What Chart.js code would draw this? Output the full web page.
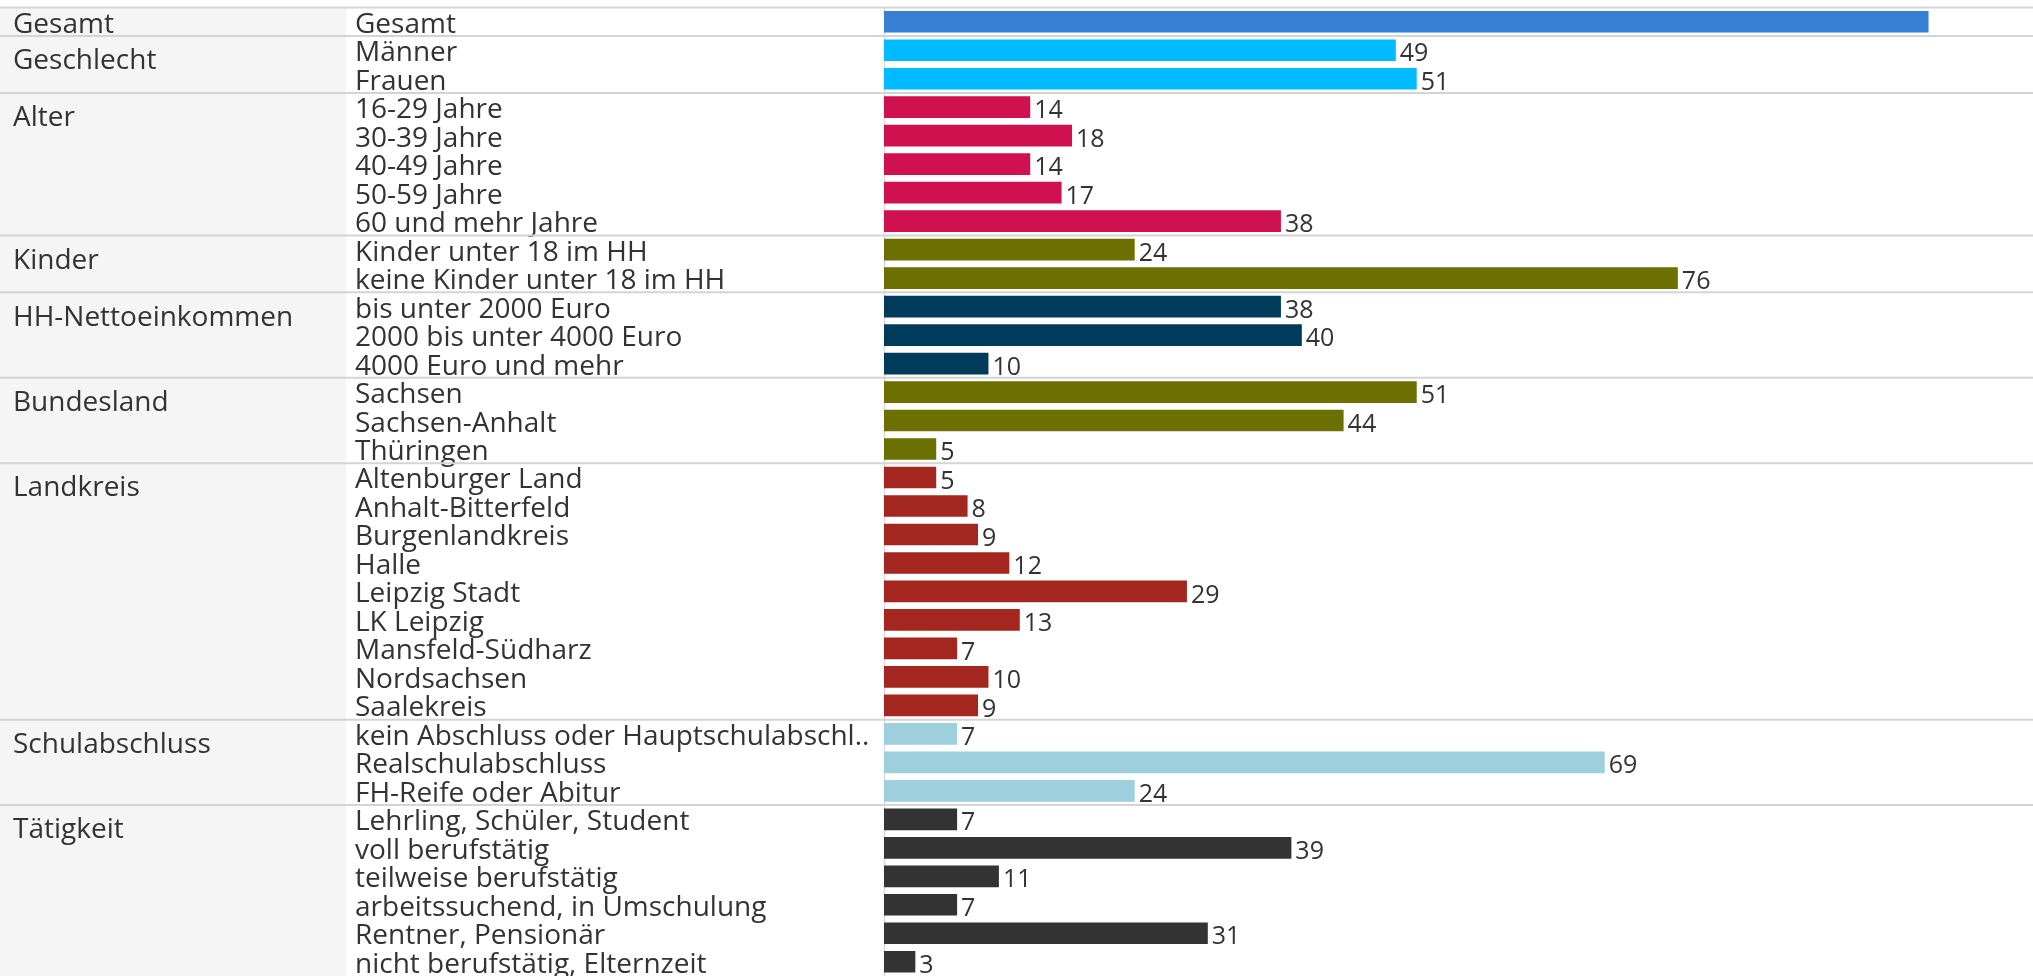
<!DOCTYPE html>
<html>
<head>
<meta charset="utf-8">
<script src="https://cdn.jsdelivr.net/npm/chart.js@4/dist/chart.umd.min.js"></script>
<style>
  html, body { margin: 0; padding: 0; background: #fff; overflow: hidden; }
  #wrap { width: 2033px; height: 976px; }
</style>
</head>
<body>
<div id="wrap"><canvas id="chart" width="2033" height="976"></canvas></div>
<script>
const groupNames = ['Gesamt', 'Geschlecht', 'Alter', 'Kinder', 'HH-Nettoeinkommen',
  'Bundesland', 'Landkreis', 'Schulabschluss', 'Tätigkeit'];
const groupCounts = [1, 2, 5, 2, 3, 3, 9, 3, 6];

const categories = [
  'Gesamt',
  'Männer', 'Frauen',
  '16-29 Jahre', '30-39 Jahre', '40-49 Jahre', '50-59 Jahre', '60 und mehr Jahre',
  'Kinder unter 18 im HH', 'keine Kinder unter 18 im HH',
  'bis unter 2000 Euro', '2000 bis unter 4000 Euro', '4000 Euro und mehr',
  'Sachsen', 'Sachsen-Anhalt', 'Thüringen',
  'Altenburger Land', 'Anhalt-Bitterfeld', 'Burgenlandkreis', 'Halle', 'Leipzig Stadt',
  'LK Leipzig', 'Mansfeld-Südharz', 'Nordsachsen', 'Saalekreis',
  'kein Abschluss oder Hauptschulabschl..', 'Realschulabschluss', 'FH-Reife oder Abitur',
  'Lehrling, Schüler, Student', 'voll berufstätig', 'teilweise berufstätig',
  'arbeitssuchend, in Umschulung', 'Rentner, Pensionär', 'nicht berufstätig, Elternzeit'
];

const values = [
  100,
  49, 51,
  14, 18, 14, 17, 38,
  24, 76,
  38, 40, 10,
  51, 44, 5,
  5, 8, 9, 12, 29, 13, 7, 10, 9,
  7, 69, 24,
  7, 39, 11, 7, 31, 3
];

// Gesamt bar shows no value label
const hiddenLabels = ['Gesamt'];

const groupColors = ['#3580d4', '#00bbff', '#cf1150', '#6b7000', '#003b5c',
  '#6b7000', '#a3271e', '#9dcfdd', '#333333'];

// group index for each row
const rowGroup = [];
groupCounts.forEach((n, g) => { for (let k = 0; k < n; k++) rowGroup.push(g); });

const FONT = "'Open Sans', sans-serif";
const TEXT = '#333333';
const LABEL_COL = 346;   // end of the grey group column
const ITEM_X = 355;

const tablePlugin = {
  id: 'table',
  beforeDatasetsDraw(chart) {
    const { ctx, chartArea, scales: { y } } = chart;
    const step = y.getPixelForValue(1) - y.getPixelForValue(0);
    ctx.save();
    ctx.fillStyle = '#f5f5f5';
    ctx.fillRect(0, chartArea.top, LABEL_COL, chartArea.bottom - chartArea.top);

    ctx.fillStyle = TEXT;
    ctx.font = `28px ${FONT}`;
    ctx.textBaseline = 'middle';
    ctx.textAlign = 'left';
    categories.forEach((c, i) => ctx.fillText(c, ITEM_X, y.getPixelForValue(i) + 3));

    let start = 0;
    groupNames.forEach((g, gi) => {
      const yy = y.getPixelForValue(start) + (groupCounts[gi] > 1 ? 11 : 3);
      ctx.fillText(g, 13, yy);
      start += groupCounts[gi];
    });

    // axis line
    ctx.strokeStyle = '#d9d9d9';
    ctx.lineWidth = 1.5;
    ctx.beginPath();
    ctx.moveTo(chartArea.left + 0.5, chartArea.top);
    ctx.lineTo(chartArea.left + 0.5, chartArea.bottom);
    ctx.stroke();

    // group separators
    ctx.strokeStyle = '#d4d4d4';
    ctx.lineWidth = 2;
    start = 0;
    [0, ...groupCounts].forEach((n) => {
      start += n;
      if (start >= categories.length) return;
      const yy = y.getPixelForValue(start) - step / 2;
      ctx.beginPath();
      ctx.moveTo(0, yy);
      ctx.lineTo(chart.width, yy);
      ctx.stroke();
    });
    ctx.restore();
  },
  afterDatasetsDraw(chart) {
    const { ctx } = chart;
    const meta = chart.getDatasetMeta(0);
    ctx.save();
    ctx.fillStyle = TEXT;
    ctx.font = `25px ${FONT}`;
    ctx.textBaseline = 'middle';
    ctx.textAlign = 'left';
    meta.data.forEach((bar, i) => {
      if (hiddenLabels.includes(categories[i])) return;
      ctx.fillText(values[i], bar.x + 4, bar.y + 4);
    });
    ctx.restore();
  }
};

new Chart(document.getElementById('chart'), {
  type: 'bar',
  data: {
    labels: categories,
    datasets: [{
      data: values,
      backgroundColor: rowGroup.map(g => groupColors[g]),
      borderWidth: 0,
      barPercentage: 0.76,
      categoryPercentage: 1
    }]
  },
  options: {
    indexAxis: 'y',
    responsive: false,
    devicePixelRatio: 1,
    animation: false,
    layout: { padding: { left: 884, top: 7.5, right: 0, bottom: 0 } },
    plugins: { legend: { display: false }, tooltip: { enabled: false } },
    scales: {
      x: { display: false, min: 0, max: 110 },
      y: { display: false }
    }
  },
  plugins: [tablePlugin]
});
</script>
</body>
</html>
